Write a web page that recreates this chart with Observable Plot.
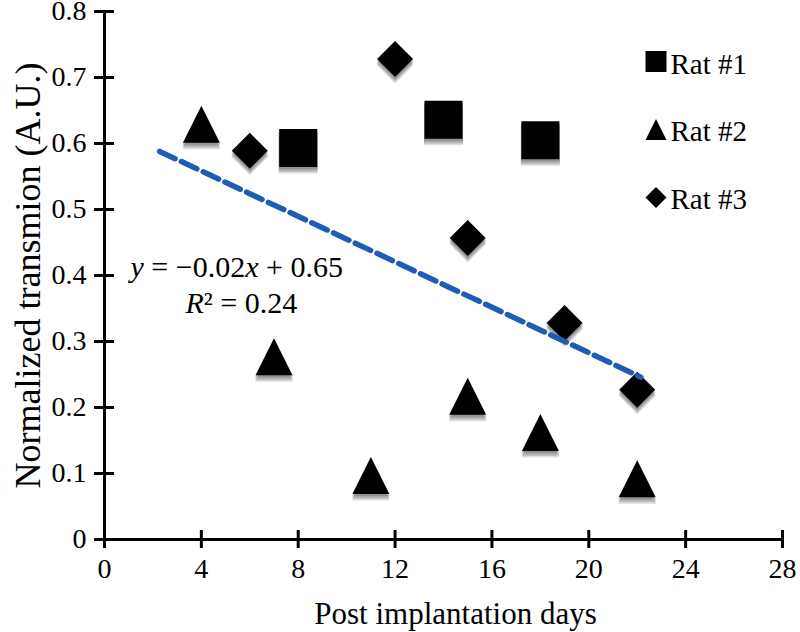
<!DOCTYPE html>
<html>
<head>
<meta charset="utf-8">
<script src="https://cdn.jsdelivr.net/npm/d3@7"></script>
<script src="https://cdn.jsdelivr.net/npm/@observablehq/plot@0.6"></script>
<style>
html, body { margin: 0; padding: 0; background: #fff; }
#chart { width: 800px; height: 632px; }
</style>
</head>
<body>
<div id="chart"></div>
<script>
// ---- data ----
const xTicks = [0, 4, 8, 12, 16, 20, 24, 28];
const yTicks = [0, 0.1, 0.2, 0.3, 0.4, 0.5, 0.6, 0.7, 0.8];

const rat1Days = [8, 14, 18];
const rat1Values = [0.593, 0.636, 0.605];

const rat2Days = [4, 7, 11, 15, 18, 22];
const rat2Values = [0.629, 0.277, 0.097, 0.217, 0.162, 0.092];

const rat3Days = [6, 12, 15, 19, 22];
const rat3Values = [0.589, 0.728, 0.457, 0.328, 0.227];

const trendDays = [2.28, 22.15];
const trendValues = [0.588, 0.246];

const legendLabels = ["Rat #1", "Rat #2", "Rat #3"];
const xLabel = "Post implantation days";
const yLabel = "Normalized transmion (A.U.)";
const equationText = "y = −0.02x + 0.65";
const r2Text = "R² = 0.24";

// ---- helpers ----
const toRows = (xs, ys) => xs.map((x, i) => ({x, y: ys[i]}));
const rFor = k => k / Math.sqrt(Math.PI); // symbol bbox side k
const squareSym = {draw(ctx, size) { const k = Math.sqrt(size); ctx.rect(-k / 2, -k / 2, k, k); }};
const triangleSym = {draw(ctx, size) { const k = Math.sqrt(size); ctx.moveTo(0, -k / 2); ctx.lineTo(k / 2, k / 2); ctx.lineTo(-k / 2, k / 2); ctx.closePath(); }};
const diamondSym = {draw(ctx, size) { const k = Math.sqrt(size); ctx.moveTo(0, -k / 2); ctx.lineTo(k / 2, 0); ctx.lineTo(0, k / 2); ctx.lineTo(-k / 2, 0); ctx.closePath(); }};
const legendSyms = [squareSym, triangleSym, diamondSym];

const serif = "'Liberation Serif', 'Times New Roman', serif";

// soft shadow under each marker, built from a few offset translucent copies
const seriesMarks = (rows, sym, k) => [
  ...[1.5, 3, 4.5, 6].map(off => Plot.dot(rows, {x: "x", y: "y", symbol: sym, r: rFor(k + 1), dy: off, fill: "#000", fillOpacity: 0.13, stroke: "none"})),
  Plot.dot(rows, {x: "x", y: "y", symbol: sym, r: rFor(k), fill: "#000", stroke: "none"})
];

const legendMarks = legendLabels.flatMap((label, i) => [
  Plot.dot([label], {frameAnchor: "top-left", dx: 551.5, dy: 50 + 68 * i, symbol: legendSyms[i], r: rFor(21), fill: "#000", stroke: "none"}),
  Plot.text([label], {text: d => d, frameAnchor: "top-left", dx: 566, dy: 62 + 67.5 * i, textAnchor: "start", lineAnchor: "bottom", fontSize: 29, fill: "#000"})
]);

const svg = Plot.plot({
  width: 800,
  height: 632,
  marginLeft: 104,
  marginRight: 18,
  marginTop: 11,
  marginBottom: 93,
  style: {fontFamily: serif, fontSize: "28px", color: "#000", background: "#fff", overflow: "visible"},
  x: {domain: [0, 28], label: null},
  y: {domain: [0, 0.8], label: null},
  marks: [
    // axis lines
    Plot.ruleX([0], {stroke: "#000", strokeWidth: 3}),
    Plot.ruleY([0], {stroke: "#000", strokeWidth: 3}),
    // crossing ticks
    Plot.ruleY(yTicks, {y: d => d, x1: 0, x2: 0, insetLeft: -10, insetRight: -10, stroke: "#000", strokeWidth: 3}),
    Plot.ruleX(xTicks, {x: d => d, y1: 0, y2: 0, insetTop: -9, insetBottom: -9, stroke: "#000", strokeWidth: 3}),
    // tick labels
    Plot.axisX({ticks: xTicks, tickSize: 0, tickPadding: 19, label: null, fontSize: 28, tickFormat: d => String(d)}),
    Plot.axisY({ticks: yTicks, tickSize: 0, tickPadding: 18, label: null, fontSize: 28, tickFormat: d => String(d)}),
    // axis titles
    Plot.text([xLabel], {text: d => d, frameAnchor: "bottom", dx: 12, dy: 84, textAnchor: "middle", lineAnchor: "bottom", fontSize: 31, fill: "#000"}),
    Plot.text([yLabel], {text: d => d, frameAnchor: "left", rotate: -90, dx: -65, textAnchor: "middle", lineAnchor: "bottom", fontSize: 36, fill: "#000"}),
    // data points
    ...seriesMarks(toRows(rat1Days, rat1Values), squareSym, 38),
    ...seriesMarks(toRows(rat2Days, rat2Values), triangleSym, 37),
    ...seriesMarks(toRows(rat3Days, rat3Values), diamondSym, 36),
    // trendline
    Plot.line(toRows(trendDays, trendValues), {x: "x", y: "y", stroke: "#1f5cb5", strokeWidth: 5.5, strokeDasharray: "17,7"}),
    // equation
    Plot.text([equationText], {text: d => d, frameAnchor: "top-left", dx: 26, dy: 265, textAnchor: "start", lineAnchor: "bottom", fontSize: 30, fill: "#000", ariaDescription: "equation"}),
    Plot.text([r2Text], {text: d => d, frameAnchor: "top-left", dx: 81, dy: 301, textAnchor: "start", lineAnchor: "bottom", fontSize: 30, fill: "#000", ariaDescription: "equation"}),
    // legend
    ...legendMarks
  ]
});

// italic variables in the equation
svg.querySelectorAll('g[aria-description="equation"] text').forEach(t => {
  t.innerHTML = t.textContent.replace(/([xyR])/g, '<tspan font-style="italic">$1</tspan>');
});

document.getElementById("chart").appendChild(svg);
</script>
</body>
</html>
